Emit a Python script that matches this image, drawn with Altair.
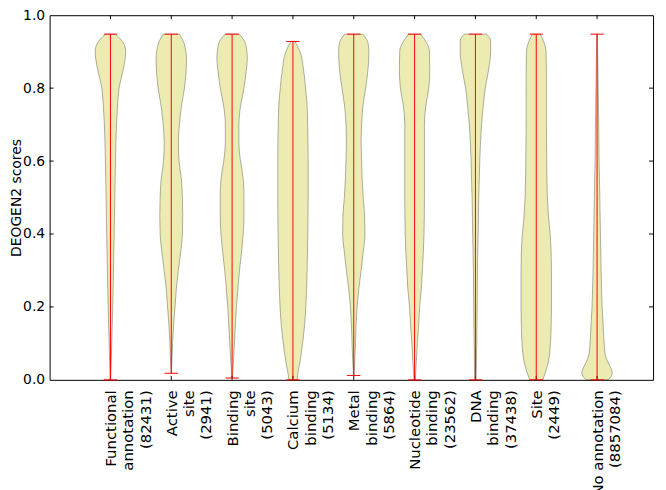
import altair as alt
import pandas as pd

# ---------------- data ----------------
NB = "\u00a0"
label_lines = [
    ["Functional", "annotation", "(82431)"],
    ["Active", "site", "(2941)"],
    ["Binding", "site", "(5043)"],
    ["Calcium", "binding", "(5134)"],
    ["Metal", "binding", "(5864)"],
    ["Nucleotide", "binding", "(23562)"],
    ["DNA", "binding", "(37438)"],
    ["Site", "(2449)"],
    ["No annotation", "(8857084)"],
]
# non-breaking spaces used to centre the shorter lines of each label block
label_pad = [
    [1, 0, 3],
    [0, 2, 0],
    [0, 3, 1],
    [0, 0, 1],
    [2, 0, 1],
    [0, 3, 2],
    [3, 0, 0],
    [2, 0],
    [0, 4],
]
positions = [1, 2, 3, 4, 5, 6, 7, 8, 9]
mins = [0.0, 0.018, 0.005, 0.0, 0.012, 0.0, 0.0, 0.0, 0.0]
maxs = [0.948, 0.948, 0.948, 0.928, 0.948, 0.948, 0.948, 0.948, 0.948]

# estimated density profiles (score grid, relative density; max = 15)
s1 = [0.0, 0.05, 0.1, 0.2, 0.3, 0.4, 0.5, 0.6, 0.7, 0.75, 0.8, 0.85, 0.88, 0.9, 0.92, 0.948]
d1 = [0.3, 0.8, 1.3, 2.3, 3.0, 3.7, 4.3, 5.0, 6.0, 7.0, 8.5, 12.5, 14.5, 15, 13.5, 5]
s2 = [0.018, 0.05, 0.1, 0.15, 0.2, 0.25, 0.3, 0.35, 0.4, 0.45, 0.5, 0.55, 0.6, 0.65, 0.7, 0.75, 0.8, 0.85, 0.88, 0.92, 0.948]
d2 = [0.2, 0.7, 1.3, 2.3, 3.7, 5, 7, 9.3, 11, 11.3, 11, 10, 7.7, 7, 8, 10, 13, 14.7, 15, 13, 8]
s3 = [0.005, 0.05, 0.1, 0.15, 0.2, 0.25, 0.3, 0.35, 0.4, 0.45, 0.5, 0.55, 0.6, 0.65, 0.7, 0.75, 0.8, 0.85, 0.88, 0.92, 0.948]
d3 = [0.3, 1.3, 2.3, 3.3, 4.3, 5.7, 7.3, 9.3, 11, 11.7, 11.7, 11, 8.3, 6.7, 6.7, 8.3, 11.7, 14, 15, 13.5, 7]
s4 = [0.0, 0.02, 0.05, 0.1, 0.15, 0.2, 0.3, 0.4, 0.5, 0.6, 0.7, 0.75, 0.8, 0.85, 0.9, 0.928]
d4 = [4, 5, 7, 9.5, 11.5, 12.7, 14, 14.7, 15, 15, 14.5, 14, 12.5, 10.5, 7, 2]
s5 = [0.012, 0.05, 0.1, 0.15, 0.2, 0.25, 0.3, 0.35, 0.4, 0.45, 0.5, 0.55, 0.6, 0.65, 0.7, 0.75, 0.8, 0.85, 0.9, 0.925, 0.948]
d5 = [0.3, 1, 1.7, 2.3, 3.3, 5, 7.3, 9.3, 11, 10.7, 9.3, 8.3, 7.7, 7.3, 7.7, 9, 11.7, 14, 15, 14, 9]
s6 = [0.0, 0.05, 0.1, 0.15, 0.2, 0.25, 0.3, 0.4, 0.5, 0.6, 0.7, 0.75, 0.8, 0.85, 0.9, 0.948]
d6 = [0.7, 1.7, 2.7, 4, 5, 6.7, 7.7, 9.3, 9.7, 9.7, 9.7, 11, 14, 15, 14.7, 6]
s7 = [0.0, 0.1, 0.2, 0.3, 0.4, 0.5, 0.6, 0.65, 0.7, 0.75, 0.8, 0.85, 0.9, 0.93, 0.948]
d7 = [0.7, 1.3, 1.7, 2, 2.7, 3.3, 4.3, 5, 6, 7.7, 9.7, 13, 15, 15, 11]
s8 = [0.0, 0.02, 0.05, 0.1, 0.15, 0.2, 0.3, 0.35, 0.4, 0.45, 0.5, 0.6, 0.7, 0.8, 0.85, 0.9, 0.948]
d8 = [6.5, 9, 12, 14, 14.7, 15, 15, 14.7, 13.7, 12, 11, 10.3, 10, 10, 10, 9.7, 4]
s9 = [0.0, 0.01, 0.02, 0.03, 0.05, 0.07, 0.1, 0.15, 0.2, 0.3, 0.4, 0.5, 0.6, 0.7, 0.8, 0.9, 0.948]
d9 = [11, 14, 15, 14, 10.5, 8, 7, 6, 5, 4, 3.3, 2.7, 2, 1.6, 1.1, 0.6, 0.3]

score_grids = [s1, s2, s3, s4, s5, s6, s7, s8, s9]
density_grids = [d1, d2, d3, d4, d5, d6, d7, d8, d9]

y_ticks = [0.0, 0.2, 0.4, 0.6, 0.8, 1.0]

# ---------------- build tables ----------------
HALF = 0.25   # max half-width of a violin (x units)
CAP = 0.11    # half-width of the extrema caps

categories = ["|".join(l + NB * p for l, p in zip(lines, pads))
              for lines, pads in zip(label_lines, label_pad)]

rows = []
for k, (pos, ss, dd) in enumerate(zip(positions, score_grids, density_grids)):
    m = max(dd)
    for s, d in zip(ss, dd):
        w = d / m * HALF
        rows.append({"vid": k, "score": s, "lo": pos - w, "hi": pos + w})
vdf = pd.DataFrame(rows)

center_df = pd.DataFrame({"cx": positions, "cy1": mins, "cy2": maxs})
cap_df = pd.DataFrame({
    "x1": [p - CAP for p in positions] * 2,
    "x2": [p + CAP for p in positions] * 2,
    "cy": maxs + mins,
})
ytick_df = pd.DataFrame({"ty": y_ticks[1:-1]})
xtick_df = pd.DataFrame({"tx": positions})

W, H = 609, 368
xscale = alt.Scale(domain=[0, 9.92], nice=False, zero=False)
yscale = alt.Scale(domain=[0, 1], nice=False, zero=False)

label_list = "[" + ",".join("'" + c + "'" for c in categories) + "]"
xaxis = alt.Axis(
    values=positions, labelExpr="split(" + label_list + "[round(datum.value) - 1], '|')",
    labelAngle=270, labelAlign="right", labelBaseline="middle", labelFontSize=15,
    labelLineHeight=17.5, labelPadding=10, labelFlush=False, labelOverlap=False,
    labelColor="black", ticks=False, domain=False, grid=False, title=None,
)
yaxis = alt.Axis(
    values=y_ticks, format=".1f", labelFontSize=14, labelPadding=5, labelColor="black",
    ticks=False, domain=False, grid=False, title="DEOGEN2 scores", titleFontSize=14,
    titleFontWeight="normal", titleColor="black", titleX=-33, titleBaseline="middle",
)


def X(field):
    return alt.X(field, scale=xscale, axis=xaxis, title=None)


def Y(field):
    return alt.Y(field, scale=yscale, axis=yaxis, title="DEOGEN2 scores")


violins = alt.Chart(vdf).mark_area(
    orient="horizontal", interpolate="monotone", fill="#bfbf00", fillOpacity=0.3,
    stroke="black", strokeOpacity=0.3, strokeWidth=1,
).encode(
    y=Y("score:Q"), x=X("lo:Q"), x2="hi:Q", detail="vid:N",
)

tick_l = alt.Chart(ytick_df).mark_rule(stroke="black", strokeWidth=1).encode(
    y=Y("ty:Q"), x=alt.value(0), x2=alt.value(4))
tick_r = alt.Chart(ytick_df).mark_rule(stroke="black", strokeWidth=1).encode(
    y=Y("ty:Q"), x=alt.value(W - 4), x2=alt.value(W))
tick_t = alt.Chart(xtick_df).mark_rule(stroke="black", strokeWidth=1).encode(
    x=X("tx:Q"), y=alt.value(0), y2=alt.value(4))
tick_b = alt.Chart(xtick_df).mark_rule(stroke="black", strokeWidth=1).encode(
    x=X("tx:Q"), y=alt.value(H - 4), y2=alt.value(H))

center = alt.Chart(center_df).mark_rule(stroke="#ff0000", strokeWidth=1).encode(
    x=X("cx:Q"), y=Y("cy1:Q"), y2="cy2:Q",
)
caps = alt.Chart(cap_df).mark_rule(stroke="#ff0000", strokeWidth=1).encode(
    x=X("x1:Q"), x2="x2:Q", y=Y("cy:Q"),
)

chart = alt.layer(
    violins, tick_l, tick_r, tick_t, tick_b, center, caps
).properties(
    width=W, height=H,
    autosize=alt.AutoSizeParams(type="none"),
    padding={"left": 42, "top": 5, "right": 5, "bottom": 120},
).configure(
    font="DejaVu Sans",
).configure_view(
    stroke="black", strokeWidth=1,
)

chart.save("out.html", embed_options={"renderer": "svg", "actions": False})
